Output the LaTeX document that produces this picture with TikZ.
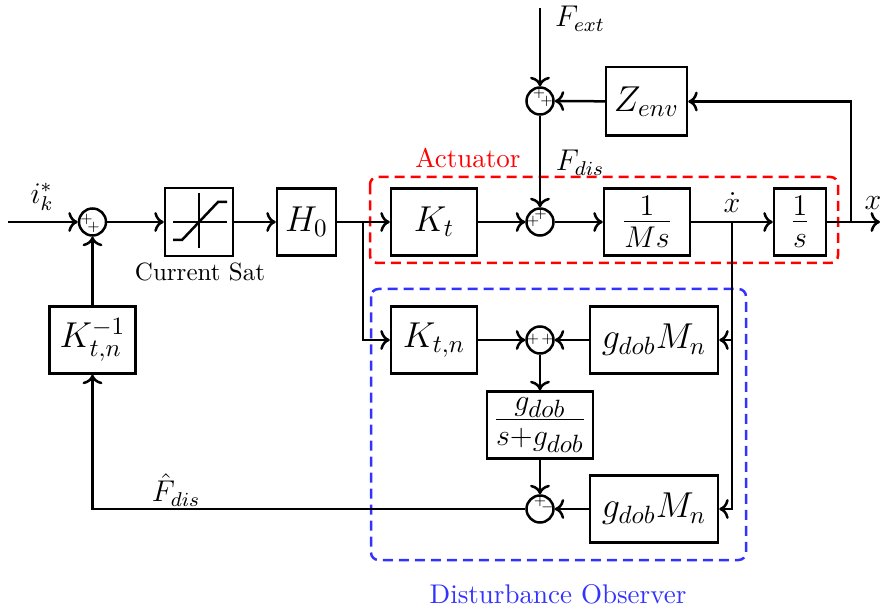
\documentclass[tikz,border=0pt]{standalone}
\usetikzlibrary{arrows.meta}
\begin{document}
\begin{tikzpicture}[x=0.4pt,y=-0.4pt,line width=1pt,
  blk/.style={draw,line width=1pt,minimum height=26.8pt,inner sep=0pt,font=\Large},
  frblk/.style={blk,font=\LARGE},
  sumn/.style={draw,circle,line width=1pt,minimum size=10.8pt,inner sep=0pt},
  sgn/.style={inner sep=0pt,font=\fontsize{3.2}{3.2}\selectfont},
  conn/.style={->,line width=1pt},
  lbl/.style={inner sep=0pt,font=\large},
  grp/.style={inner sep=0pt,font=\fontsize{10.8}{13}\selectfont},
  dbox/.style={dashed,dash pattern=on 4pt off 2.4pt,line width=1pt,rounded corners=3pt}]
\useasboundingbox (0,0) rectangle (880,612);
% dashed groups
\draw[dbox,red] (370,177) rectangle (838,263);
\draw[dbox,blue!80] (371,289) rectangle (746,560);
\node[grp,text=red] (actl) at (468,158) {Actuator};
\node[grp,text=blue!80] (dobl) at (558,594) {Disturbance Observer};
% summing junctions
\node[sumn] (s1) at (92.5,222) {};
\node[sumn] (s2) at (540,222) {};
\node[sumn] (s3) at (540,101) {};
\node[sumn] (s4) at (540,340) {};
\node[sumn] (s5) at (540,509) {};
% signs
\path (s1) ++(-6,-2.5) node[sgn] (s1a) {$+$};
\path (s1) ++(1,5) node[sgn] (s1b) {$+$};
\path (s2) ++(-7,-1) node[sgn] (s2a) {$+$};
\path (s2) ++(0.5,-8) node[sgn] (s2b) {$+$};
\path (s3) ++(-1,-7.5) node[sgn] (s3a) {$+$};
\path (s3) ++(6.5,0.5) node[sgn] (s3b) {$+$};
\path (s4) ++(-7,-0.7) node[sgn] (s4a) {$+$};
\path (s4) ++(7.5,-0.7) node[sgn] (s4b) {$+$};
\path (s5) ++(0,-8) node[sgn] (s5a) {$+$};
\path (s5) ++(7.5,-1.5) node[sgn] (s5b) {$-$};
% blocks
\node[blk,minimum width=27.2pt,minimum height=27.2pt] (sat) at (199,222) {};
\draw[line width=1pt] (173,222) -- (227,222) (199,193) -- (199,248);
\draw[line width=1pt] (173,240) -- (182,240) -- (218,202) -- (227,202);
\node[inner sep=0pt,font=\normalsize] (satl) at (200,272) {Current Sat};
\node[blk,minimum width=23.6pt] (H0) at (306.5,222) {$H_0$};
\node[blk,minimum width=34.4pt] (Kt) at (434,222) {$K_t$};
\node[frblk,minimum width=34.4pt] (Ms) at (647,222) {$\frac{1}{Ms}$};
\node[frblk,minimum width=20.8pt] (S) at (800,222) {$\frac{1}{s}$};
\node[blk,minimum width=32.4pt,minimum height=27.4pt] (Z) at (646.5,101.5) {$Z_{env}$};
\node[blk,minimum width=34.4pt] (Kinv) at (92.5,340) {$K_{t,n}^{-1}$};
\node[blk,minimum width=34.4pt] (Ktn) at (434,340) {$K_{t,n}$};
\node[blk,minimum width=51.2pt] (G1) at (654,340) {$g_{dob}M_n$};
\node[frblk,minimum width=42.4pt] (F) at (540,425) {$\frac{g_{dob}}{s+g_{dob}}$};
\node[blk,minimum width=51.2pt] (G2) at (654,509) {$g_{dob}M_n$};
% coordinates
\coordinate (in) at (8,222);
\coordinate (out) at (880,222);
\coordinate (b1) at (363,222);
\coordinate (b2) at (732,222);
\coordinate (b3) at (851,222);
\coordinate (fext) at (540,8);
% labels
\node[lbl] (ik) at (42,197) {$i_k^*$};
\node[lbl] (fextl) at (580,19) {$F_{ext}$};
\node[lbl] (fdisl) at (580,163) {$F_{dis}$};
\node[lbl] (xdl) at (732,203) {$\dot{x}$};
\node[lbl] (xl) at (873,203) {$x$};
\node[lbl] (fhl) at (176,490) {$\hat{F}_{dis}$};
% connectors
\draw[conn] (in) -- (s1);
\draw[conn] (s1) -- (sat);
\draw[conn] (sat) -- (H0);
\draw[conn] (H0) -- (Kt);
\draw[conn] (b1) |- (Ktn);
\draw[conn] (Kt) -- (s2);
\draw[conn] (s2) -- (Ms);
\draw[conn] (Ms) -- (S);
\draw[conn] (S) -- (out);
\draw[conn] (b3) |- (Z);
\draw[conn] (Z) -- (s3);
\draw[conn] (fext) -- (s3);
\draw[conn] (s3) -- (s2);
\draw[conn] (b2) |- (G1);
\draw[conn] (b2) |- (G2);
\draw[conn] (G1) -- (s4);
\draw[conn] (Ktn) -- (s4);
\draw[conn] (s4) -- (F);
\draw[conn] (F) -- (s5);
\draw[conn] (G2) -- (s5);
\draw[conn] (s5) -| (Kinv);
\draw[conn] (Kinv) -- (s1);
\end{tikzpicture}
\end{document}
